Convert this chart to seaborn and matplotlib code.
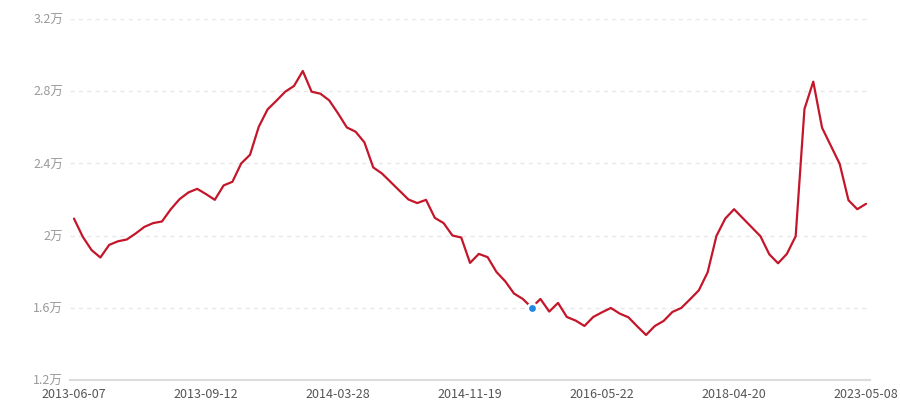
"""Courbe de prix (en 万) avec seaborn."""

import matplotlib.pyplot as plt
import pandas as pd
import seaborn as sns

# valeurs, en 万
values = [
    2.094, 1.993, 1.919, 1.878, 1.948, 1.968, 1.978, 2.011, 2.048, 2.069,
    2.078, 2.146, 2.202, 2.239, 2.259, 2.230, 2.198, 2.278, 2.298, 2.400,
    2.448, 2.604, 2.700, 2.748, 2.798, 2.830, 2.913, 2.798, 2.787, 2.750,
    2.678, 2.600, 2.576, 2.517, 2.378, 2.344, 2.296, 2.248, 2.200, 2.180,
    2.198, 2.098, 2.069, 2.000, 1.989, 1.848, 1.898, 1.880, 1.798, 1.746,
    1.678, 1.648, 1.600, 1.648, 1.578, 1.626, 1.548, 1.528, 1.498, 1.548,
    1.574, 1.598, 1.567, 1.546, 1.496, 1.448, 1.498, 1.526, 1.576, 1.598,
    1.646, 1.696, 1.796, 1.998, 2.094, 2.146, 2.096, 2.046, 1.996, 1.896,
    1.846, 1.898, 1.996, 2.702, 2.854, 2.598, 2.498, 2.398, 2.196, 2.146,
    2.176,
]
date_labels = ["2013-06-07", "2013-09-12", "2014-03-28", "2014-11-19",
               "2016-05-22", "2018-04-20", "2023-05-08"]
label_positions = [0, 15, 30, 45, 60, 75, 90]
y_ticks = [1.2, 1.6, 2.0, 2.4, 2.8, 3.2]
y_labels = ["1.2万", "1.6万", "2万", "2.4万", "2.8万", "3.2万"]
highlight_index = 52

sns.set_theme(style="white")
plt.rcParams["font.family"] = ["Noto Sans CJK SC", "DejaVu Sans"]

df = pd.DataFrame({"idx": range(len(values)), "value": values})

fig = plt.figure(figsize=(9, 4), dpi=100)
ax = fig.add_axes([0.0778, 0.0508, 0.8889, 0.9010])

sns.lineplot(data=df, x="idx", y="value", color="#c4162a", linewidth=1.6, ax=ax)
point = df.iloc[[highlight_index]]
sns.scatterplot(data=point, x="idx", y="value", color="#1e88e5", s=45,
                edgecolor="white", linewidth=1.8, zorder=5, ax=ax)

ax.set_xlim(-0.45, len(values) - 1 + 0.45)
ax.set_ylim(1.2, 3.2)
ax.set_yticks(y_ticks)
ax.set_yticklabels(y_labels)
ax.set_xticks(label_positions)
ax.set_xticklabels(date_labels)
ax.set_xlabel("")
ax.set_ylabel("")

for y in y_ticks[1:]:
    ax.axhline(y, color="#e8e8e8", linestyle=(0, (3, 3)), linewidth=1, zorder=0)

for side in ["top", "right", "left"]:
    ax.spines[side].set_visible(False)
ax.spines["bottom"].set_color("#dcdcdc")
ax.spines["bottom"].set_linewidth(1.5)

ax.tick_params(axis="y", length=0, pad=5, labelsize=9, labelcolor="#9a9a9a")
ax.tick_params(axis="x", length=4, width=1, color="#dcdcdc", pad=2,
               labelsize=9, labelcolor="#555555")

fig.savefig("out.png", dpi=100)
plt.close(fig)
